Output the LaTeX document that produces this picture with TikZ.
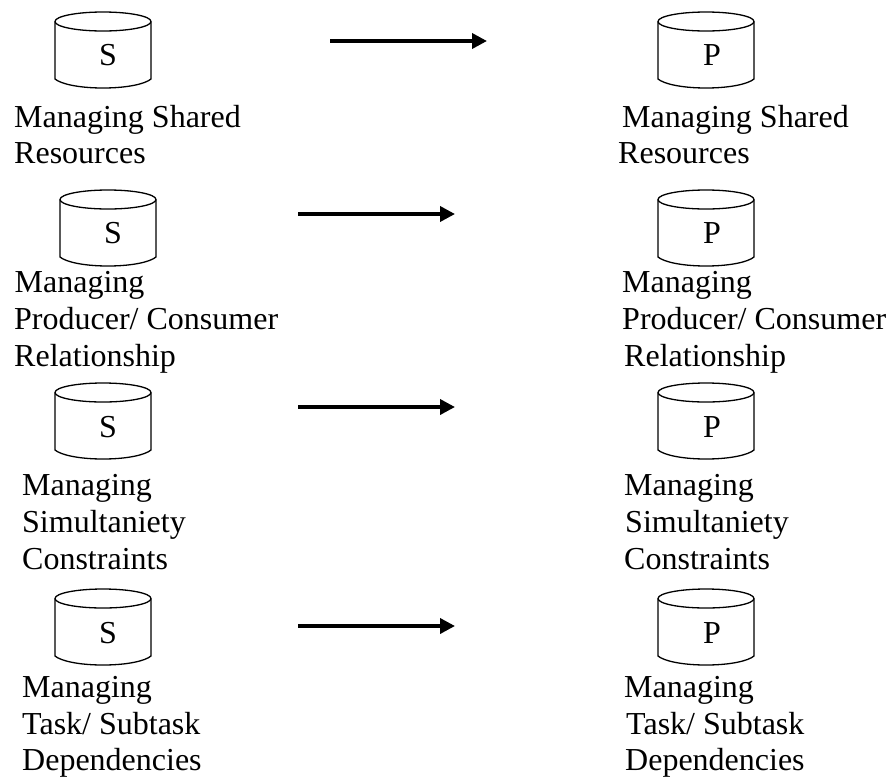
\documentclass[tikz,border=0pt]{standalone}
\usepackage{fontspec}
\setmainfont{Liberation Serif}
\usetikzlibrary{arrows.meta}
\tikzset{
  x=1pt,y=-1pt,
  cyl/.style={draw=black,line width=1.3pt,fill=white},
  letter/.style={font=\fontsize{32}{32}\selectfont,inner sep=0pt,anchor=base},
  lab/.style={font=\fontsize{32}{37}\selectfont,inner sep=0pt,anchor=base west},
  flow/.style={line width=3.6pt,-{Triangle[length=15pt,width=15pt]}}
}
\newcommand{\cylshape}[2]{% left x, top y
  \draw[cyl] (#1,#2+9.5) -- (#1,#2+67) .. controls (#1+6,#2+72) and (#1+24,#2+76) .. (#1+48,#2+76)
    .. controls (#1+72,#2+76) and (#1+90,#2+72) .. (#1+96,#2+67) -- (#1+96,#2+9.5);
  \draw[cyl] (#1+48,#2+9.5) ellipse [x radius=48,y radius=9.5];
}
\begin{document}
\begin{tikzpicture}
\useasboundingbox (0,0) rectangle (891,777);
\cylshape{55}{12}\cylshape{60}{190}\cylshape{55}{383}\cylshape{55}{589}
\cylshape{658}{12}\cylshape{658}{190}\cylshape{658}{383}\cylshape{658}{589}
\node[letter] (s1) at (108,65) {S};
\node[letter] (s2) at (113,243) {S};
\node[letter] (s3) at (108,437) {S};
\node[letter] (s4) at (108,643) {S};
\node[letter] (p1) at (712,65) {P};
\node[letter] (p2) at (712,243) {P};
\node[letter] (p3) at (712,437) {P};
\node[letter] (p4) at (712,643) {P};
\coordinate (a1) at (330,41); \coordinate (b1) at (487,41);
\coordinate (a2) at (298,214); \coordinate (b2) at (455,214);
\coordinate (a3) at (298,407); \coordinate (b3) at (455,407);
\coordinate (a4) at (298,626); \coordinate (b4) at (455,626);
\draw[flow] (a1) -- (b1);
\draw[flow] (a2) -- (b2);
\draw[flow] (a3) -- (b3);
\draw[flow] (a4) -- (b4);
\node[lab] (t1a) at (14,127) {Managing Shared};
\node[lab] (t1b) at (14,163) {Resources};
\node[lab] (t2a) at (14.5,292) {Managing};
\node[lab] (t2b) at (14,329) {Producer/ Consumer};
\node[lab] (t2c) at (14,366) {Relationship};
\node[lab] (t3a) at (22,495) {Managing};
\node[lab] (t3b) at (22,532) {Simultaniety};
\node[lab] (t3c) at (22,569) {Constraints};
\node[lab] (t4a) at (22,697) {Managing};
\node[lab] (t4b) at (22,734) {Task/ Subtask};
\node[lab] (t4c) at (22,770) {Dependencies};
\node[lab] (u1a) at (622,127) {Managing Shared};
\node[lab] (u1b) at (618,163) {Resources};
\node[lab] (u2a) at (622,292) {Managing};
\node[lab] (u2b) at (622,329) {Producer/ Consumer};
\node[lab] (u2c) at (624,366) {Relationship};
\node[lab] (u3a) at (624,495) {Managing};
\node[lab] (u3b) at (625,532) {Simultaniety};
\node[lab] (u3c) at (624,569) {Constraints};
\node[lab] (u4a) at (624,697) {Managing};
\node[lab] (u4b) at (626,734) {Task/ Subtask};
\node[lab] (u4c) at (625,770) {Dependencies};
\end{tikzpicture}
\end{document}
